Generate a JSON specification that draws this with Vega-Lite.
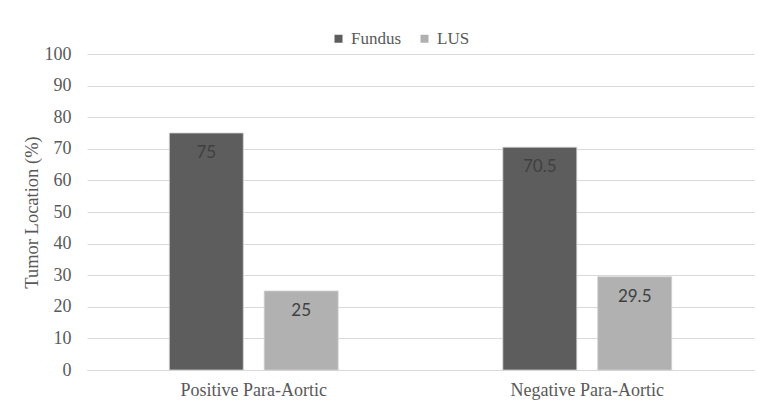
{
  "$schema": "https://vega.github.io/schema/vega-lite/v6.json",
  "width": 667,
  "height": 316,
  "autosize": {"type": "none"},
  "padding": {"left": 87, "top": 54, "right": 4, "bottom": 35},
  "background": "white",
  "config": {
    "view": {"stroke": null},
    "font": "Liberation Serif",
    "legend": {"labelFont": "Liberation Serif"},
    "axis": {"labelFont": "Liberation Serif", "titleFont": "Liberation Serif"}
  },
  "data": {
    "values": [
      {"group": "Positive Para-Aortic", "site": "Fundus", "pct": 75},
      {"group": "Positive Para-Aortic", "site": "LUS", "pct": 25},
      {"group": "Negative Para-Aortic", "site": "Fundus", "pct": 70.5},
      {"group": "Negative Para-Aortic", "site": "LUS", "pct": 29.5}
    ]
  },
  "encoding": {
    "x": {
      "field": "group",
      "type": "nominal",
      "sort": ["Positive Para-Aortic", "Negative Para-Aortic"],
      "scale": {"paddingInner": 0, "paddingOuter": 0},
      "axis": {
        "title": null,
        "labelAngle": 0,
        "labelFontSize": 18,
        "labelColor": "#595959",
        "labelPadding": 11,
        "ticks": false,
        "domainColor": "#d9d9d9",
        "domainWidth": 1.2
      }
    },
    "xOffset": {
      "field": "site",
      "type": "nominal",
      "sort": ["Fundus", "LUS"],
      "scale": {"paddingInner": 0.221, "paddingOuter": 0.868}
    },
    "y": {
      "field": "pct",
      "type": "quantitative",
      "scale": {"domain": [0, 100], "nice": false},
      "axis": {
        "title": "Tumor Location (%)",
        "titleFontSize": 18.5,
        "titleFontWeight": "normal",
        "titleColor": "#595959",
        "titlePadding": 3,
        "values": [0, 10, 20, 30, 40, 50, 60, 70, 80, 90, 100],
        "labelFontSize": 18,
        "labelColor": "#595959",
        "labelPadding": 16,
        "ticks": false,
        "domain": false,
        "gridColor": "#d9d9d9",
        "gridWidth": 1.2
      }
    }
  },
  "layer": [
    {
      "mark": {"type": "bar", "stroke": "#d0d0d0", "strokeWidth": 0.8},
      "encoding": {
        "color": {
          "field": "site",
          "type": "nominal",
          "sort": ["Fundus", "LUS"],
          "scale": {"domain": ["Fundus", "LUS"], "range": ["#5d5d5d", "#b1b1b1"]},
          "legend": {
            "title": null,
            "orient": "none",
            "direction": "horizontal",
            "legendX": 243,
            "legendY": -24,
            "symbolType": "square",
            "symbolSize": 64,
            "symbolStrokeWidth": 0,
            "labelFont": "Liberation Serif",
            "labelFontSize": 17,
            "labelColor": "#595959",
            "labelOffset": 4,
            "columnPadding": 14
          }
        }
      }
    },
    {
      "mark": {
        "type": "text",
        "baseline": "middle",
        "dy": 20,
        "font": "Lato",
        "fontSize": 17,
        "color": "#404040"
      },
      "encoding": {
        "text": {"field": "pct", "type": "quantitative"}
      }
    }
  ]
}
